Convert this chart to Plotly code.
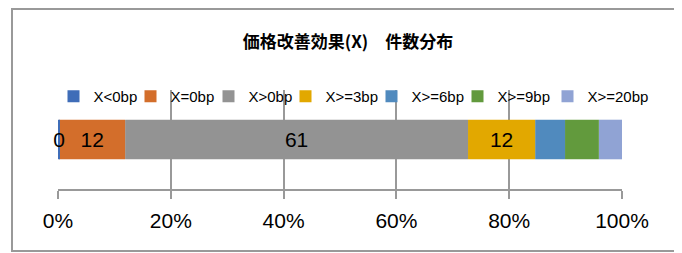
import plotly.graph_objects as go

categories = ["件数"]
series_names = ["X<0bp", "X=0bp", "X>0bp", "X>=3bp", "X>=6bp", "X>=9bp", "X>=20bp"]
series_values = [0.2, 11.7, 60.8, 11.9, 5.3, 6.0, 4.1]
series_labels = ["0", "12", "61", "12", "", "", ""]
series_colors = ["#3F6DB8", "#D36E2B", "#939393", "#E2A800", "#508ABE", "#629A3D", "#90A3D4"]
legend_widths = [32, 33, 32, 41, 41, 45, 62]
tick_values = [0, 20, 40, 60, 80, 100]
tick_labels = ["0%", "20%", "40%", "60%", "80%", "100%"]

# cumulative bases so the first segment's label can be drawn on top
bases = []
acc = 0.0
for v in series_values:
    bases.append(acc)
    acc += v

fig = go.Figure()
for name, val, base, lab, col, lw in reversed(list(zip(series_names, series_values, bases,
                                                         series_labels, series_colors, legend_widths))):
    fig.add_trace(go.Bar(
        y=categories, x=[val], base=[base], name=name, orientation="h",
        marker=dict(color=col, line=dict(width=0)),
        text=[lab], textposition="inside", insidetextanchor="middle",
        textfont=dict(color="#000000", size=21), cliponaxis=False,
        legendwidth=lw, hoverinfo="skip",
    ))

W, H = 674, 245
L, R, T, B = 50, 60, 82, 64
pw, ph = W - L - R, H - T - B

fig.update_layout(
    barmode="overlay",
    bargap=0.6,
    width=W, height=H,
    margin=dict(l=L, r=R, t=T, b=B),
    paper_bgcolor="white", plot_bgcolor="white",
    font=dict(family="Liberation Sans, Arial, Noto Sans CJK JP", color="#000000"),
    uniformtext=dict(minsize=21, mode="show"),
    title=dict(text="<b>価格改善効果(X)　件数分布</b>", x=0.5 + 8 / pw, xref="paper",
               y=1 - 34 / H, yref="container", yanchor="middle", xanchor="center",
               font=dict(size=17, family="Noto Sans CJK JP, Liberation Sans")),
    legend=dict(orientation="h", x=-4.5 / pw, xanchor="left", y=1 + 10 / ph, yanchor="top",
                bgcolor="rgba(0,0,0,0)", font=dict(size=15), traceorder="reversed",
                itemwidth=30),
    showlegend=True,
    xaxis=dict(range=[0, 100], tickvals=tick_values, ticktext=tick_labels,
               showgrid=True, gridcolor="#999999", gridwidth=2,
               showline=True, linecolor="#999999", linewidth=2,
               ticks="outside", ticklen=8, tickwidth=2, tickcolor="#999999",
               tickfont=dict(size=21), ticklabelstandoff=4, zeroline=False, fixedrange=True),
    yaxis=dict(showticklabels=False, showgrid=False, zeroline=False, showline=False,
               range=[-0.5, 0.5], fixedrange=True),
    shapes=[dict(type="rect", xref="paper", yref="paper",
                 x0=(4 - L) / pw, x1=1 + (669 - (W - R)) / pw,
                 y0=-(243 - (H - B)) / ph, y1=1 + (T - 1) / ph,
                 line=dict(color="#999999", width=2), fillcolor="rgba(0,0,0,0)", layer="below")],
)

fig.write_html("out.html")
